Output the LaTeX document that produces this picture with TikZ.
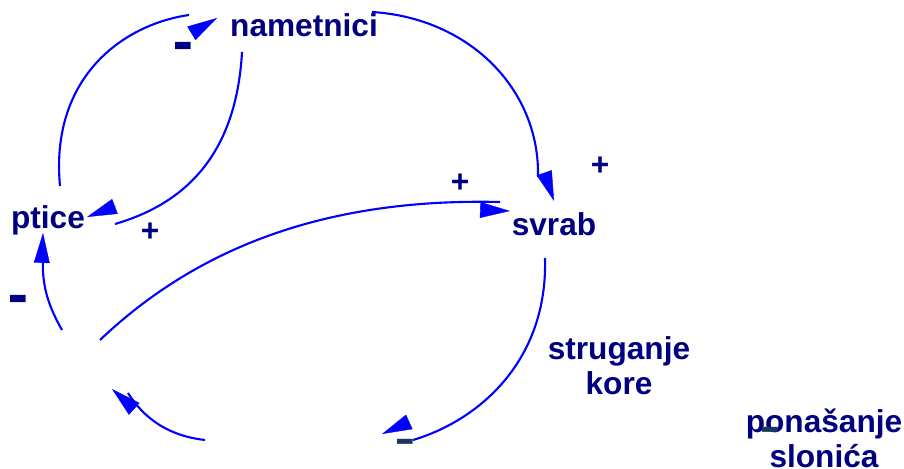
\documentclass[tikz,border=0pt]{standalone}
\usepackage{fontspec}
\setmainfont{Liberation Sans}
\usepackage{graphicx}
\usepackage{tikz}
\usetikzlibrary{arrows.meta,positioning}
\usepackage{xcolor}
\definecolor{cldnavy}{RGB}{0,0,128}
\definecolor{cldblue}{RGB}{0,0,255}
\definecolor{cldslate}{RGB}{30,55,95}

\begin{document}
\begin{tikzpicture}[x=0.02cm, y=-0.02cm,
  var/.style ={font=\fontsize{18}{20}\selectfont\bfseries, text=cldnavy,
               align=center, inner sep=0pt},
  plus/.style={font=\fontsize{18}{20}\selectfont\bfseries, text=cldnavy,
               inner sep=0pt},
  minus/.style={font=\fontsize{18}{20}\selectfont\bfseries, text=cldnavy,
               inner sep=0pt, yscale=2.3, transform shape},
  thin/.style={text=cldslate, yscale=0.7},
  arr/.style ={draw=cldblue, line width=1.2pt},
  head/.style={-{Triangle[length=17pt, width=9pt]}, draw=cldblue,
               line width=0.2pt}
]
  \useasboundingbox (0,0) rectangle (904,469);

  %% ── Variables ───────────────────────────────────────────────────────────
  \node[var] (nametnici) at (304,25)  {nametnici};
  \node[var] (ptice)     at (48,220)  {ptice};
  \node[var] (svrab)     at (554,224) {svrab};
  \node[var] (struganje) at (619,366) {struganje\\kore};
  \node[var] (ponasanje) at (824,438) {ponašanje\\slonića};

  %% ── Loose ends of the links ─────────────────────────────────────────────
  \coordinate (pn0) at (60,186);   \coordinate (pn1) at (189,15);
  \coordinate (pnb) at (192,33);   \coordinate (pnt) at (217,18);
  \coordinate (np0) at (242,52);   \coordinate (np1) at (115,224);
  \coordinate (npb) at (116,206);  \coordinate (npt) at (87,217);
  \coordinate (ns0) at (372,12);   \coordinate (ns1) at (538,177);
  \coordinate (nsb) at (545,175);  \coordinate (nst) at (554,201);
  \coordinate (ks0) at (100,340);  \coordinate (ks1) at (500,202);
  \coordinate (ksb) at (480,210);  \coordinate (kst) at (510,211);
  \coordinate (sk0) at (545,258);  \coordinate (sk1) at (413,440);
  \coordinate (skb) at (409,422);  \coordinate (skt) at (382,434);
  \coordinate (kk0) at (205,440);  \coordinate (kk1) at (128,393);
  \coordinate (kkb) at (131,406);  \coordinate (kkt) at (112,389);
  \coordinate (kp0) at (62,330);   \coordinate (kp1) at (43,258);
  \coordinate (kpb) at (42,258);   \coordinate (kpt) at (43,233);

  %% ── Links ───────────────────────────────────────────────────────────────
  \draw[arr]  (pn0) .. controls (50,80) and (120,25) .. (pn1);
  \draw[head] (pnb) -- (pnt);
  \draw[arr]  (np0) .. controls (236,160) and (180,205) .. (np1);
  \draw[head] (npb) -- (npt);
  \draw[arr]  (ns0) .. controls (470,18) and (540,90) .. (ns1);
  \draw[head] (nsb) -- (nst);
  \draw[arr]  (ks0) .. controls (200,245) and (330,198) .. (ks1);
  \draw[head] (ksb) -- (kst);
  \draw[arr]  (sk0) .. controls (548,360) and (480,420) .. (sk1);
  \draw[head] (skb) -- (skt);
  \draw[arr]  (kk0) .. controls (170,436) and (145,420) .. (kk1);
  \draw[head] (kkb) -- (kkt);
  \draw[arr]  (kp0) .. controls (46,302) and (42,282) .. (kp1);
  \draw[head] (kpb) -- (kpt);

  %% ── Polarities ──────────────────────────────────────────────────────────
  \node[minus] (m1) at (183,53.5) {\raisebox{-0.26em}{–}};
  \node[plus]  (p1) at (150,232) {+};
  \node[minus] (m2) at (18,306.5) {\raisebox{-0.26em}{–}};
  \node[plus]  (p2) at (460,183) {+};
  \node[plus]  (p3) at (600,166) {+};
  \node[minus,thin] (m3) at (405.5,447) {\raisebox{-0.26em}{–}};
  \node[minus,thin] (m4) at (770,435) {\raisebox{-0.26em}{–}};

\end{tikzpicture}
\end{document}
